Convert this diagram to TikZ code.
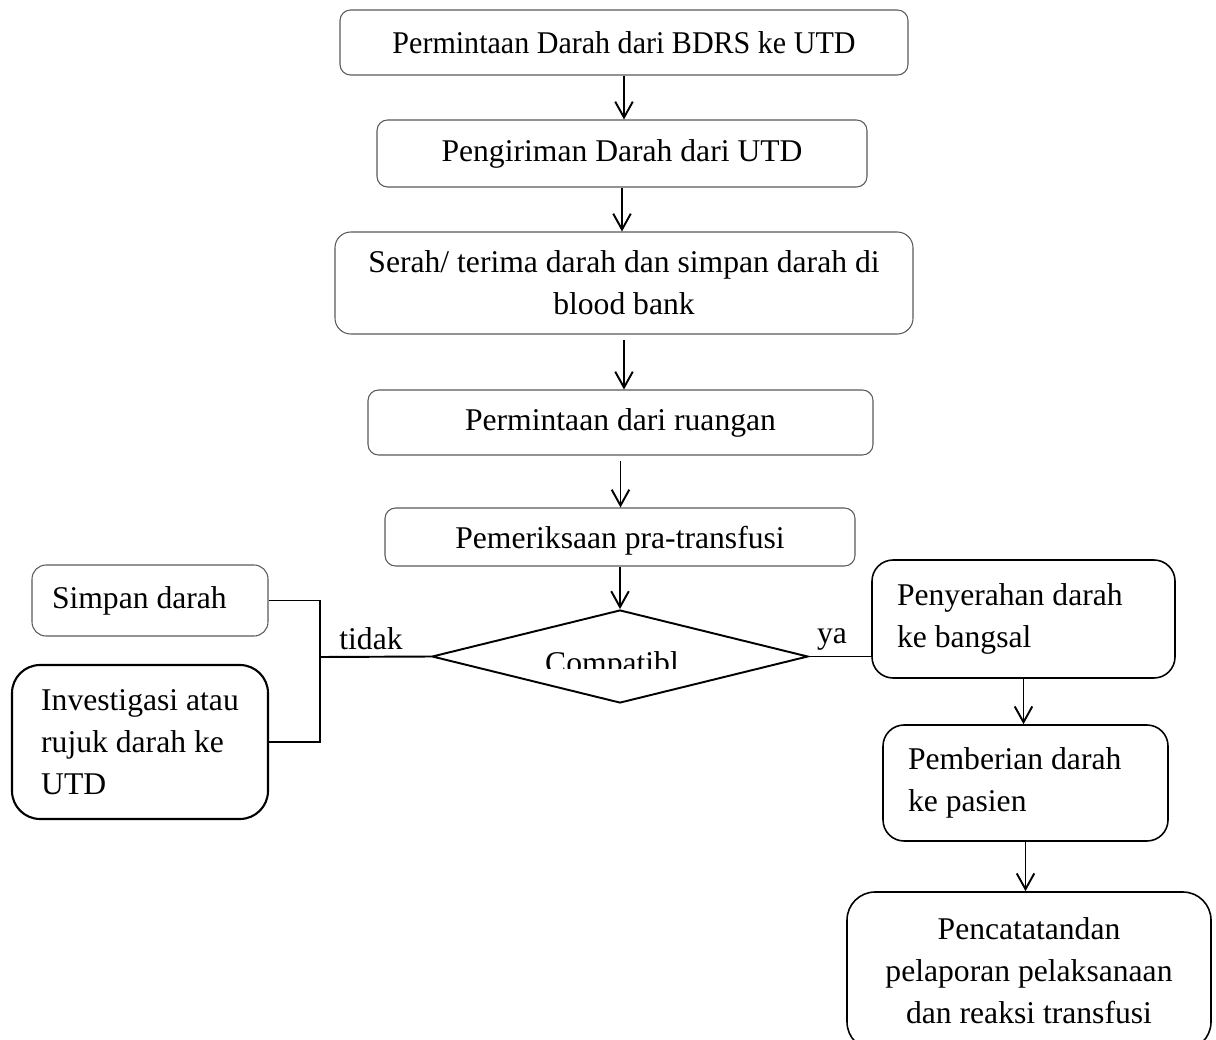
\documentclass[tikz,border=0pt]{standalone}
\usepackage{fontspec}
\setmainfont{Liberation Serif}
\usetikzlibrary{arrows.meta,shapes.geometric}
\newcommand{\pxu}{0.02cm}

\begin{document}
\begin{tikzpicture}[x=0.02cm,y=-0.02cm]
	\useasboundingbox (0,0) rectangle (1216,1040);
	\tikzstyle{every node}=[font=\fontsize{18}{24}\selectfont]
	\tikzstyle{kotak}=[draw=black!65,line width=0.6pt,rounded corners=6pt,align=center,inner sep=0pt]
	\tikzstyle{kiri}=[draw=black,line width=0.9pt,rounded corners=12pt,align=flush left,inner ysep=0pt]
	\tikzstyle{panah}=[line width=1.1pt,-{Straight Barb[length=9pt,width=10pt]}]
	\tikzstyle{garis}=[line width=1.1pt]
	% alur utama
	\node[kotak,minimum width=568*\pxu,minimum height=65*\pxu] (b1) at (624,42.5) {\scalebox{0.95}[1]{Permintaan Darah dari BDRS ke UTD}};
	\node[kotak,minimum width=490*\pxu,minimum height=67*\pxu] (b2) at (622,153.5) {Pengiriman Darah dari UTD};
	\node[kotak,minimum width=578*\pxu,minimum height=102*\pxu,rounded corners=9pt] (b3) at (624,283) {Serah/ terima darah dan simpan darah di\\blood bank};
	\node[kotak,minimum width=505*\pxu,minimum height=65*\pxu] (b4) at (620.5,422.5) {Permintaan dari ruangan};
	\node[kotak,minimum width=470*\pxu,minimum height=58*\pxu,text depth=0pt] (b5) at (620,537) {Pemeriksaan pra-transfusi};
	\node[draw,diamond,line width=1.1pt,minimum width=376*\pxu,minimum height=93*\pxu,inner sep=0pt] (cek) at (620,656.5) {};
	\begin{scope}
		\clip (530,640) rectangle (710,668);
		\node (cektxt) at (612,666) {Compatibl};
	\end{scope}
	% cabang tidak
	\node[kotak,minimum width=236*\pxu,minimum height=71*\pxu,rounded corners=8pt,align=flush left,inner xsep=20*\pxu,text width=196*\pxu] (simpan) at (150,600.5) {Simpan darah};
	\node[kiri,align=left,line width=1.2pt,rounded corners=16pt,minimum width=256*\pxu,minimum height=154*\pxu] (inv) at (140,742) {Investigasi atau\\rujuk darah ke\\UTD};
	% cabang ya
	\node[kiri,minimum width=303*\pxu,minimum height=118*\pxu,inner xsep=25*\pxu,text width=253*\pxu] (pen) at (1023.5,619) {Penyerahan darah\\ke bangsal};
	\node[kiri,minimum width=285*\pxu,minimum height=116*\pxu,inner xsep=25*\pxu,text width=235*\pxu] (pem) at (1025.5,783) {Pemberian darah\\ke pasien};
	\node[kiri,align=flush center,rounded corners=16pt,minimum width=364*\pxu,minimum height=158*\pxu,text width=340*\pxu,inner xsep=12*\pxu] (pc) at (1029,971) {Pencatatandan\\pelaporan pelaksanaan\\dan reaksi transfusi};
	% label
	\node (tidak) at (371,639) {tidak};
	\node (ya) at (832,639) {ya};
	% panah
	\draw[panah] (b1.south) -- (b1.south |- b2.north);
	\draw[panah] (b2.south) -- (b2.south |- b3.north);
	\draw[panah,shorten <=3pt] (b3.south) -- (b3.south |- b4.north);
	\draw[panah,shorten <=3pt] (b4.south) -- (b4.south |- b5.north);
	\draw[panah] (b5.south) -- (b5.south |- cek.north);
	\coordinate (jl) at (320,657);
	\draw[garis] (cek.west) -- (jl);
	\draw[garis] (simpan.east) -| (jl) |- (inv.east);
	\draw[garis] (cek.east) -- (cek.east -| pen.west);
	\draw[panah] (pen.south) -- (pen.south |- pem.north);
	\draw[panah] (pem.south) -- (pem.south |- pc.north);
\end{tikzpicture}
\end{document}
